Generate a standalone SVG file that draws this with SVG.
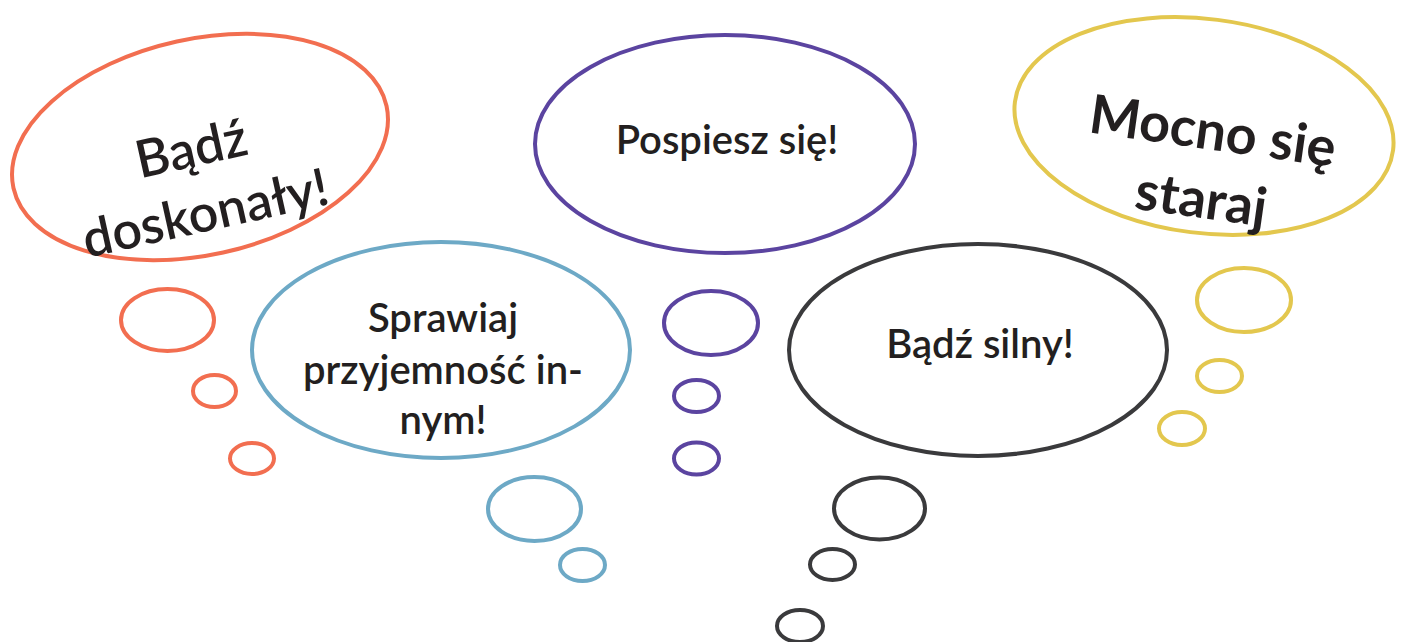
<svg xmlns="http://www.w3.org/2000/svg" width="1406" height="642" viewBox="0 0 1406 642">
<style>
.b{fill:#fff;stroke-width:4}
.s{fill:none;stroke-width:4}
.o{stroke:#F26E50}
.bl{stroke:#6DA9C6}
.p{stroke:#5B44A0}
.k{stroke:#3A3A3C}
.y{stroke:#E3C74E}
.t{font-family:Lato,"Noto Sans",sans-serif;font-weight:600;fill:#231F20;text-anchor:middle}
.m{font-size:40px}
.l{font-size:52px}
.xl{font-size:54px;font-weight:700}
</style>
<rect width="1406" height="642" fill="#fff"/>
<g id="bubble-orange">
<ellipse class="b o" cx="200" cy="147" rx="191" ry="108" transform="rotate(-12.4 200 147)"/>
<ellipse class="s o" cx="167.5" cy="320" rx="46.5" ry="31"/>
<ellipse class="s o" cx="214.5" cy="391" rx="21.5" ry="16"/>
<ellipse class="s o" cx="252" cy="458.5" rx="22" ry="15.5"/>
<g transform="rotate(-12.5 200 198)">
<text class="t l" x="202" y="166">Bądź</text>
<text class="t l" x="202" y="232">doskonały!</text>
</g>
</g>
<g id="bubble-blue">
<ellipse class="b bl" cx="441" cy="350" rx="189" ry="108"/>
<ellipse class="s bl" cx="534.5" cy="509" rx="46.5" ry="32"/>
<ellipse class="s bl" cx="582.5" cy="565" rx="22.5" ry="16"/>
<text class="t m" x="443" y="332">Sprawiaj</text>
<text class="t m" x="443" y="384">przyjemność in-</text>
<text class="t m" x="443" y="434">nym!</text>
</g>
<g id="bubble-purple">
<ellipse class="b p" cx="725" cy="144" rx="190" ry="109"/>
<ellipse class="s p" cx="711" cy="323" rx="47" ry="32"/>
<ellipse class="s p" cx="696.5" cy="396" rx="22.5" ry="16"/>
<ellipse class="s p" cx="696.5" cy="458.5" rx="22.5" ry="16"/>
<text class="t m" x="727" y="154">Pospiesz się!</text>
</g>
<g id="bubble-black">
<ellipse class="b k" cx="978" cy="350" rx="189" ry="106"/>
<ellipse class="s k" cx="879.5" cy="508.5" rx="45.5" ry="31"/>
<ellipse class="s k" cx="832.5" cy="564.5" rx="22.5" ry="15.5"/>
<ellipse class="s k" cx="800" cy="626" rx="23" ry="16"/>
<text class="t m" x="980" y="358">Bądź silny!</text>
</g>
<g id="bubble-yellow">
<ellipse class="b y" cx="1204" cy="126" rx="190.6" ry="107" transform="rotate(7.3 1204 126)"/>
<ellipse class="s y" cx="1244" cy="300" rx="47" ry="32"/>
<ellipse class="s y" cx="1219.5" cy="376" rx="22.5" ry="16"/>
<ellipse class="s y" cx="1182" cy="428.5" rx="23" ry="16.5"/>
<g transform="rotate(8 1204 180)">
<text class="t xl" x="1206" y="149">Mocno się</text>
<text class="t xl" x="1204" y="218">staraj</text>
</g>
</g>
<g id="connectors"/>
</svg>
